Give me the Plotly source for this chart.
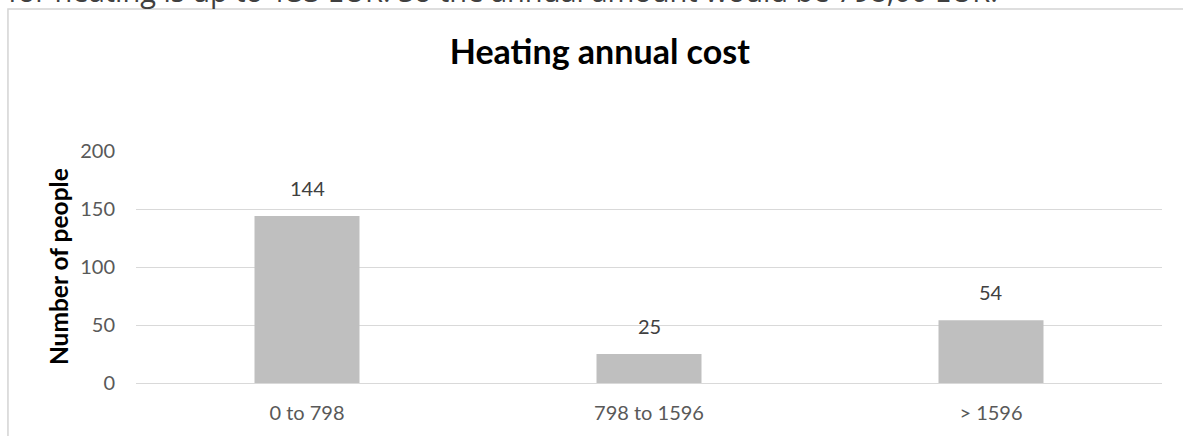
import plotly.graph_objects as go

# chart data
categories = ["0 to 798", "798 to 1596", "> 1596"]
people = [144, 25, 54]
y_ticks = [0, 50, 100, 150, 200]

TITLE = "Heating annual cost"
Y_TITLE = "Number of people"
DOC_TEXT = "for heating is up to 133 EUR. So the annual amount would be 798,00 EUR."

fig = go.Figure()

fig.add_trace(go.Bar(
    x=categories,
    y=people,
    marker_color="#bfbfbf",
    marker_line_width=0,
    hoverinfo="x+y",
))

# value labels above the bars
for cat, val in zip(categories, people):
    fig.add_annotation(
        x=cat, y=val, xref="x", yref="y",
        text=str(val), showarrow=False,
        yanchor="bottom", yshift=14,
        font=dict(family="Lato", size=20, color="#404040"),
    )

# y axis title, placed by hand like the Excel one
fig.add_annotation(
    x=-0.076, y=0.5, xref="paper", yref="paper",
    text="<b>" + Y_TITLE + "</b>", textangle=-90, showarrow=False,
    xanchor="center", yanchor="middle",
    font=dict(family="Lato", size=24.5, color="#000000"),
)

# cut-off line of document text above the chart
fig.add_annotation(
    x=-0.127, y=1.597, xref="paper", yref="paper",
    text=DOC_TEXT, showarrow=False,
    xanchor="left", yanchor="bottom",
    font=dict(family="Open Sans", size=29, color="#404040"),
)

# chart frame (cropped on right and bottom)
fig.add_shape(
    type="rect", xref="paper", yref="paper",
    x0=-0.1248, x1=1.1, y0=-0.3, y1=1.612,
    line=dict(color="#d4d4d4", width=1.5),
    fillcolor="rgba(0,0,0,0)", layer="below",
)

fig.update_layout(
    width=1183,
    height=436,
    margin=dict(l=136, r=21, t=151, b=53),
    paper_bgcolor="white",
    plot_bgcolor="white",
    showlegend=False,
    bargap=0.693,
    title=dict(
        text="<b>" + TITLE + "</b>",
        x=0.507, xref="container", xanchor="center",
        y=1 - 52 / 436, yref="container", yanchor="middle",
        font=dict(family="Lato", size=34, color="#000000"),
    ),
    xaxis=dict(
        showgrid=False, showline=False, ticks="",
        ticklabelstandoff=16,
        tickfont=dict(family="Lato", size=20, color="#595959"),
    ),
    yaxis=dict(
        range=[0, 200], tickvals=y_ticks,
        showgrid=True, gridcolor="#d9d9d9", gridwidth=1,
        zeroline=True, zerolinecolor="#d9d9d9", zerolinewidth=1,
        showline=False, ticks="",
        ticklabelstandoff=20,
        tickfont=dict(family="Lato", size=20, color="#595959"),
    ),
)

# the page has an 8px body margin by default; drop it so the chart sits at 0,0
fig.write_html(
    "out.html",
    config={"displayModeBar": False},
    post_script="document.body.style.margin = '0';",
)
